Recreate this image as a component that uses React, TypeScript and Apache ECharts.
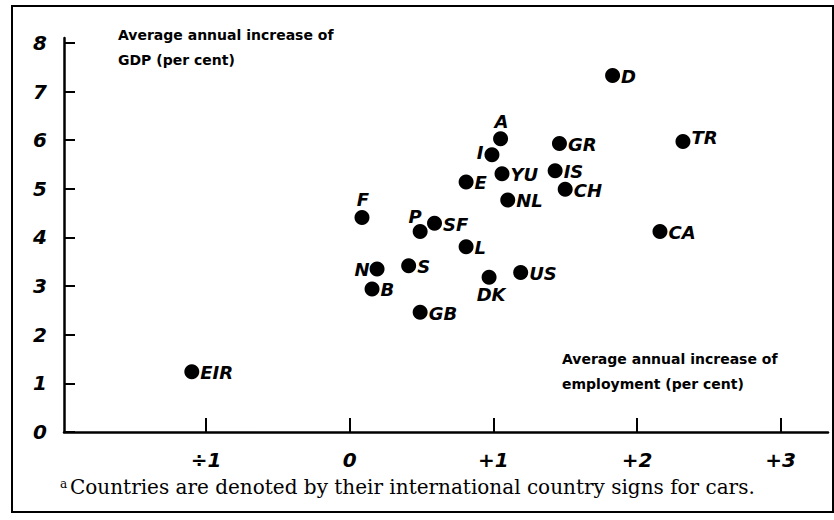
import React, { useEffect, useRef } from "react";
import * as echarts from "echarts";

const countries = ["D", "A", "I", "GR", "TR", "YU", "IS", "CH", "E", "NL", "F", "P", "SF", "CA", "L", "N", "S", "B", "DK", "US", "GB", "EIR"];
const employment = [1.83, 1.05, 0.99, 1.46, 2.32, 1.06, 1.43, 1.5, 0.81, 1.1, 0.085, 0.49, 0.59, 2.16, 0.81, 0.19, 0.41, 0.155, 0.97, 1.19, 0.49, -1.1];
const gdp = [7.33, 6.03, 5.7, 5.93, 5.97, 5.31, 5.37, 4.99, 5.14, 4.77, 4.41, 4.12, 4.29, 4.12, 3.81, 3.35, 3.42, 2.94, 3.18, 3.28, 2.46, 1.24];
const xTicks = [-1, 0, 1, 2, 3];
const yTicks = [0, 1, 2, 3, 4, 5, 6, 7, 8];

const labelPlacement: Record<string, { position: string; offset?: number[] }> = {
  A: { position: "top", offset: [1, 2] },
  I: { position: "left", offset: [2, -2] },
  F: { position: "top", offset: [1, 2] },
  P: { position: "top", offset: [-5, 4] },
  N: { position: "left", offset: [3, 0] },
  DK: { position: "bottom", offset: [2, -2] },
  TR: { position: "right", offset: [-2, -4] },
};

const FONT = "'DejaVu Sans', sans-serif";

export default function App() {
  const ref = useRef<HTMLDivElement>(null);
  useEffect(() => {
    if (!ref.current) return;
    const chart = echarts.init(ref.current, null, { renderer: "svg" });
    const data = countries.map((c, i) => {
      const p = labelPlacement[c] || { position: "right", offset: [-2, 1] };
      return {
        name: c,
        value: [employment[i], gdp[i]],
        label: { position: p.position, offset: p.offset || [0, 0] },
      };
    });
    chart.setOption({
      animation: false,
      backgroundColor: "#ffffff",
      grid: { left: 64, right: 6, top: 38, bottom: 88, containLabel: false },
      xAxis: {
        type: "value",
        min: -1.99,
        max: 3.33,
        splitLine: { show: false },
        axisLine: { onZero: false, lineStyle: { color: "#000", width: 2.5 } },
        axisTick: { show: true, customValues: xTicks, inside: true, length: 14, lineStyle: { color: "#000", width: 2 } },
        axisLabel: {
          customValues: xTicks,
          margin: 18,
          color: "#000",
          fontFamily: FONT,
          fontStyle: "italic",
          fontWeight: "bold",
          fontSize: 20,
          formatter: (v: number) => (v < 0 ? "÷" + Math.abs(v) : v === 0 ? "0" : "+" + v),
        },
      },
      yAxis: {
        type: "value",
        min: 0,
        max: 8.1,
        splitLine: { show: false },
        axisLine: { onZero: false, lineStyle: { color: "#000", width: 2.5 } },
        axisTick: { show: true, customValues: yTicks, inside: true, length: 11, lineStyle: { color: "#000", width: 2 } },
        axisLabel: {
          customValues: yTicks,
          margin: 17,
          color: "#000",
          fontFamily: FONT,
          fontStyle: "italic",
          fontWeight: "bold",
          fontSize: 20,
        },
      },
      series: [
        {
          type: "scatter",
          symbol: "circle",
          symbolSize: 15,
          itemStyle: { color: "#000", opacity: 1 },
          label: {
            show: true,
            formatter: "{b}",
            color: "#000",
            fontFamily: FONT,
            fontStyle: "italic",
            fontWeight: "bold",
            fontSize: 18,
            distance: 3,
          },
          data,
        },
      ],
      graphic: [
        { type: "rect", shape: { x: 12, y: 6, width: 821, height: 506 }, style: { fill: "none", stroke: "#000", lineWidth: 2 }, silent: true },
        { type: "text", left: 118, top: 22, style: { text: "Average annual increase of\nGDP (per cent)", font: "bold 14px " + FONT, fill: "#000", lineHeight: 25 } },
        { type: "text", left: 562, top: 346, style: { text: "Average annual increase of\nemployment (per cent)", font: "bold 14px " + FONT, fill: "#000", lineHeight: 25 } },
        { type: "text", left: 60, top: 478, style: { text: "a", font: "12px 'DejaVu Serif', serif", fill: "#000" } },
        { type: "text", left: 70, top: 477, style: { text: "Countries are denoted by their international country signs for cars.", font: "20px 'DejaVu Serif', serif", fill: "#000" } },
      ],
    });
    return () => chart.dispose();
  }, []);
  return <div ref={ref} style={{ position: "fixed", left: 0, top: 0, width: 834, height: 520 }} />;
}
